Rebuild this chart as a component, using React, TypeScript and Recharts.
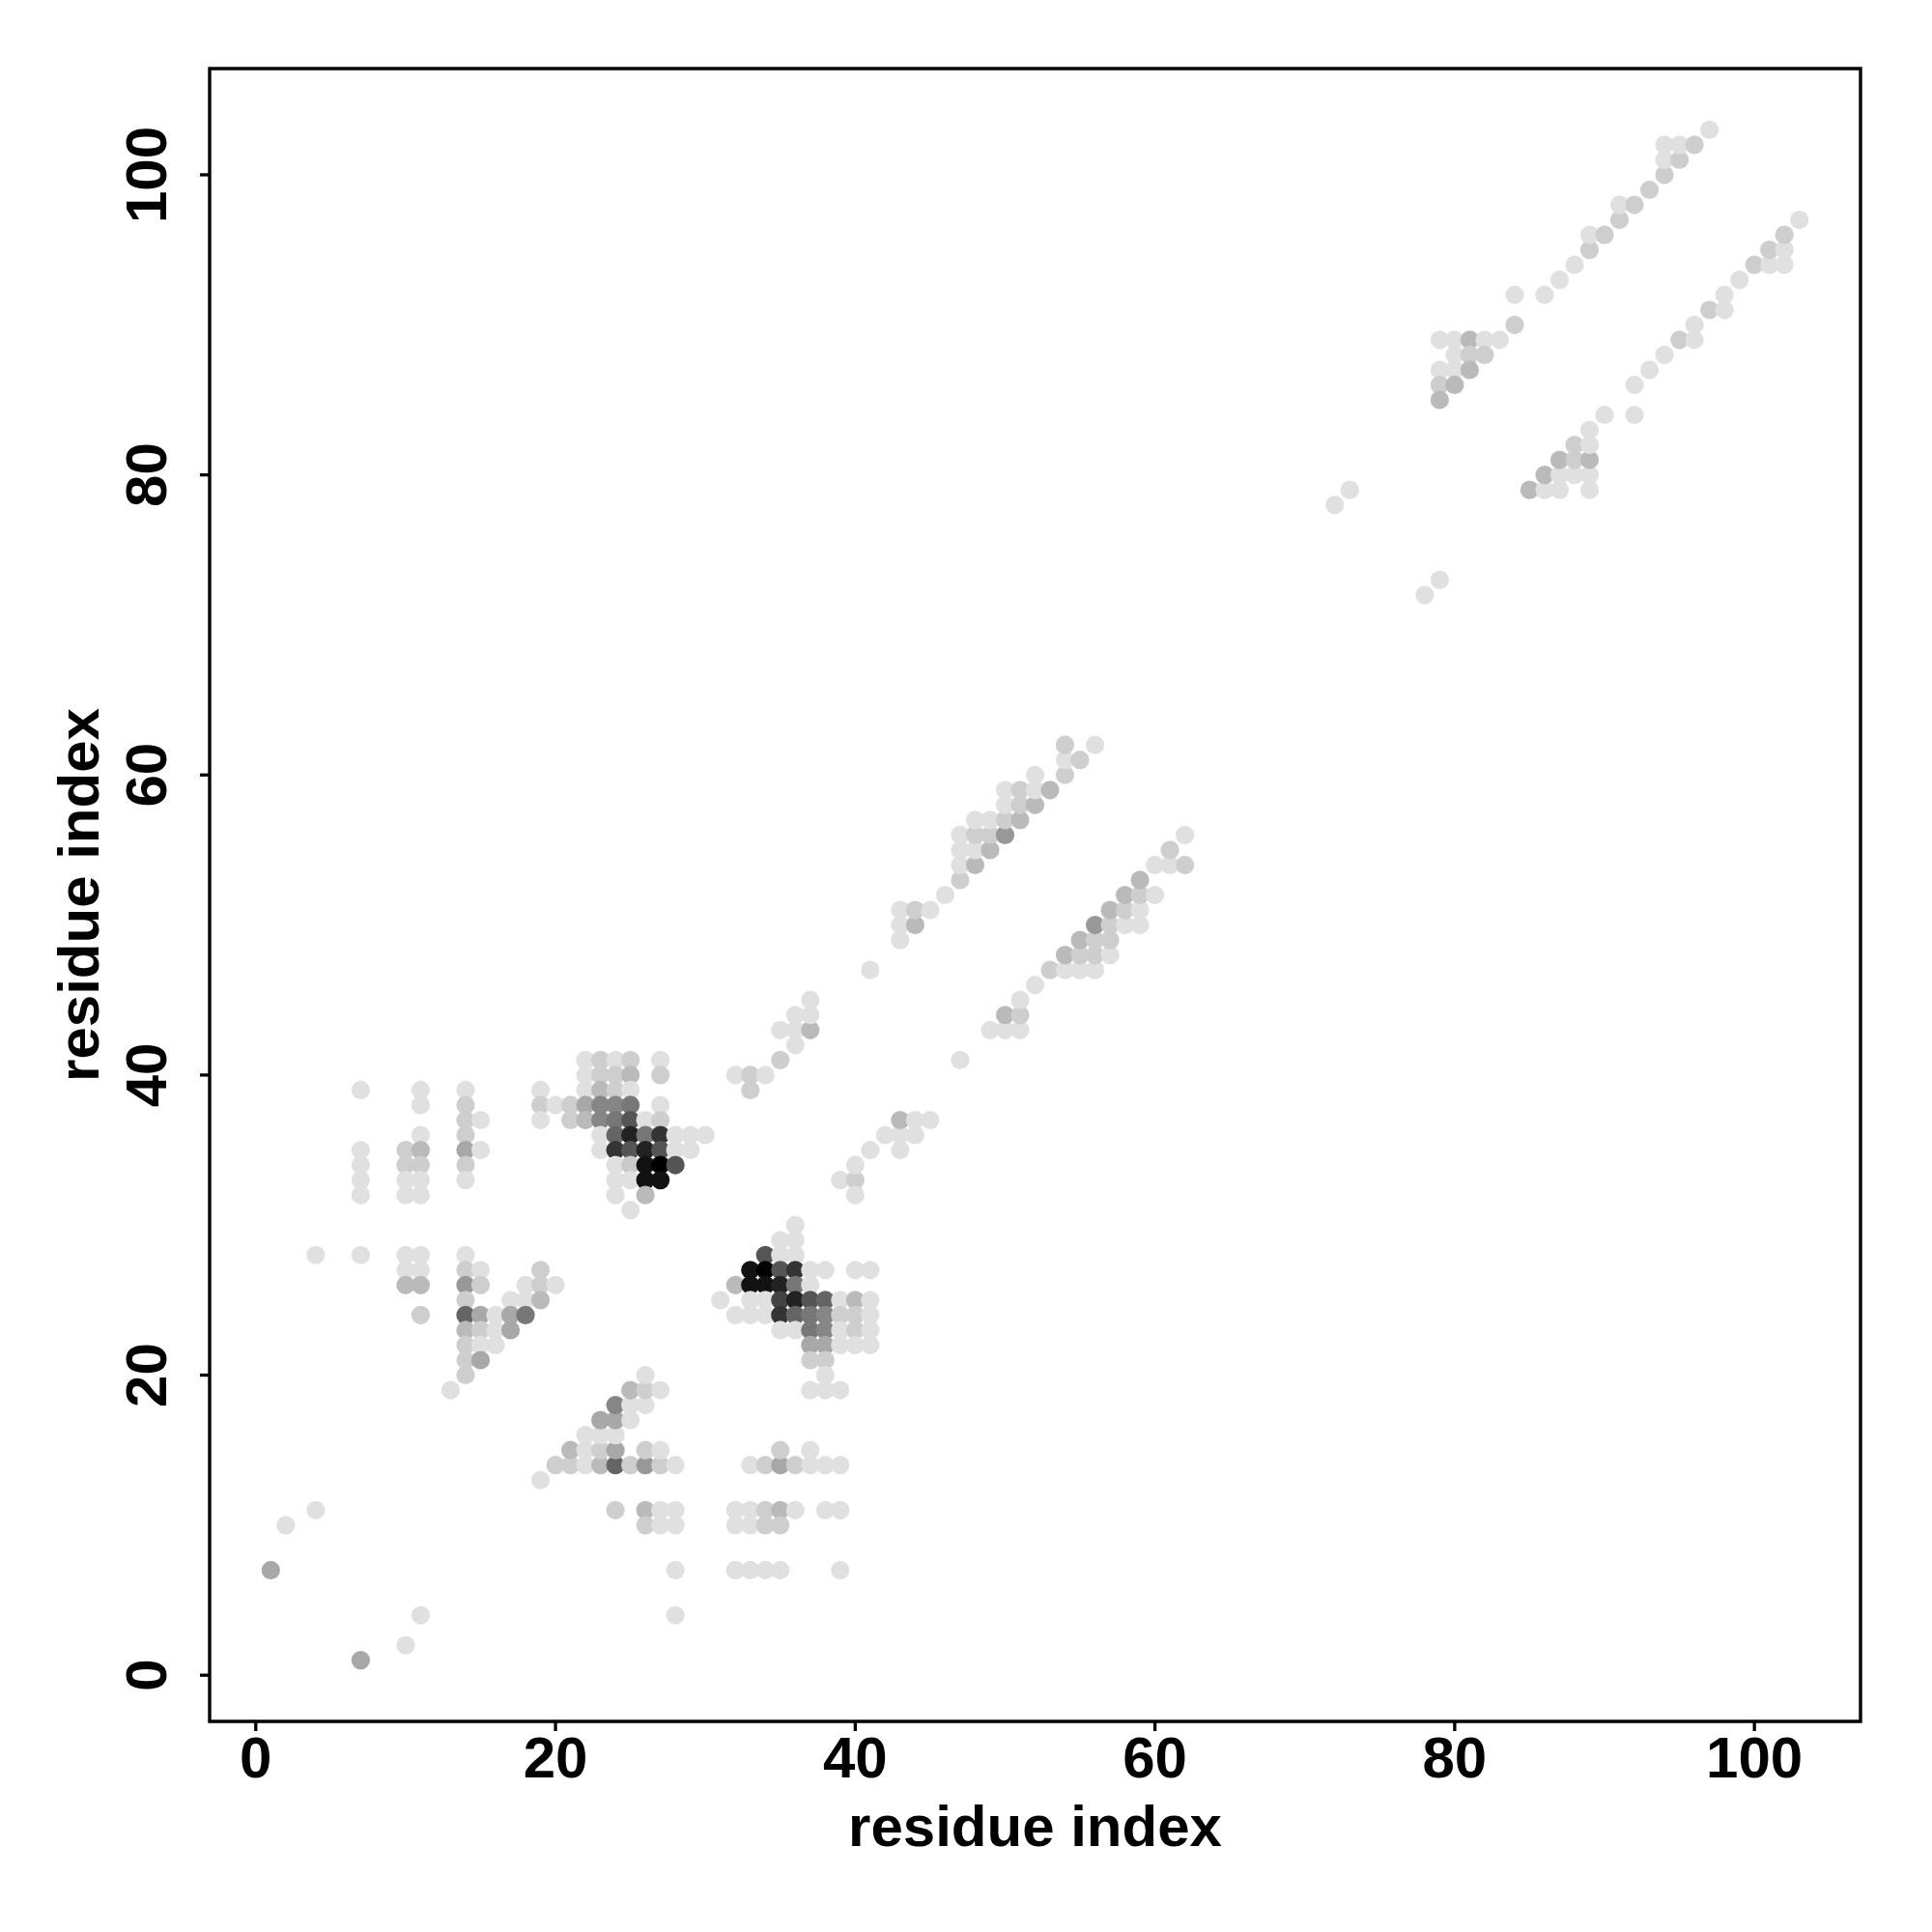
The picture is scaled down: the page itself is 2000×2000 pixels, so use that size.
import { ReferenceArea, Scatter, ScatterChart, XAxis, YAxis } from "recharts";

// each contact: [residue i, residue j, contact frequency 0..1]
type Contact = [number, number, number];

const scattered: Contact[] = [
  [1, 7, 0.25], [2, 10, 0], [4, 11, 0], [7, 1, 0.25], [10, 2, 0], [11, 4, 0],
  [13, 19, 0], [19, 13, 0], [4, 28, 0], [7, 28, 0],
];

const stripesUpperLeft: Contact[] = [
  [7, 39, 0], [7, 35, 0], [7, 34, 0], [7, 33, 0], [7, 32, 0],
  [10, 35, 0.08], [10, 34, 0.08], [10, 33, 0], [10, 32, 0],
  [11, 39, 0], [11, 38, 0], [11, 36, 0], [11, 35, 0.17], [11, 34, 0.08], [11, 33, 0], [11, 32, 0],
  [14, 39, 0], [14, 38, 0.08], [14, 37, 0.08], [14, 36, 0.08], [14, 35, 0.25], [14, 34, 0.08], [14, 33, 0],
  [15, 37, 0], [15, 35, 0],
  [19, 39, 0], [19, 38, 0.08], [19, 37, 0], [20, 38, 0], [21, 38, 0.08], [21, 37, 0.08],
];

const hairpinTop: Contact[] = [
  [22, 41, 0], [22, 40, 0], [22, 39, 0], [22, 38, 0.25], [22, 37, 0.17],
  [23, 41, 0.08], [23, 40, 0.08], [23, 39, 0.17], [23, 38, 0.4], [23, 37, 0.4], [23, 36, 0], [23, 35, 0],
  [24, 41, 0], [24, 40, 0.08], [24, 39, 0.08], [24, 38, 0.4], [24, 37, 0.47], [24, 36, 0.55], [24, 35, 0.77],
  [24, 34, 0], [24, 33, 0], [24, 32, 0],
  [25, 41, 0.08], [25, 40, 0.17], [25, 39, 0], [25, 38, 0.47], [25, 37, 0.62], [25, 36, 0.85], [25, 35, 0.62],
  [25, 34, 0.1], [25, 33, 0], [25, 31, 0],
  [26, 37, 0], [26, 36, 0.47], [26, 35, 0.85], [26, 34, 0.92], [26, 33, 0.92], [26, 32, 0.17],
  [27, 41, 0], [27, 40, 0.08], [27, 38, 0], [27, 37, 0.08], [27, 36, 0.77], [27, 35, 0.62], [27, 34, 1], [27, 33, 0.92],
  [28, 36, 0], [28, 35, 0], [28, 34, 0.62], [29, 36, 0], [29, 35, 0], [30, 36, 0],
];

const sheetLeft: Contact[] = [
  [10, 28, 0], [11, 28, 0], [10, 27, 0], [11, 27, 0], [10, 26, 0.17], [11, 26, 0.17], [11, 24, 0.08],
  [14, 28, 0], [14, 27, 0.08], [14, 26, 0.32], [14, 25, 0.08], [14, 24, 0.55], [14, 23, 0.17],
  [14, 22, 0.08], [14, 21, 0.08], [14, 20, 0.08],
  [15, 27, 0], [15, 26, 0.08], [15, 24, 0.25], [15, 23, 0.08], [15, 22, 0], [15, 21, 0.25],
  [16, 24, 0], [16, 23, 0], [16, 22, 0],
  [17, 25, 0], [17, 24, 0.25], [17, 23, 0.25],
  [18, 26, 0], [18, 25, 0], [18, 24, 0.47],
  [19, 27, 0.08], [19, 26, 0.08], [19, 25, 0.17], [20, 26, 0],
];

const sheetMiddle: Contact[] = [
  [20, 14, 0.08], [21, 14, 0.08], [22, 14, 0], [23, 14, 0.17], [24, 14, 0.55], [25, 14, 0.08],
  [26, 14, 0.32], [27, 14, 0.08], [28, 14, 0],
  [21, 15, 0.17], [22, 15, 0], [23, 15, 0.08], [24, 15, 0.25], [26, 15, 0.08], [27, 15, 0],
  [22, 16, 0], [23, 16, 0], [24, 16, 0],
  [23, 17, 0.25], [24, 17, 0.25], [25, 17, 0],
  [24, 18, 0.4], [25, 18, 0], [26, 18, 0],
  [25, 19, 0.17], [26, 19, 0.08], [27, 19, 0], [26, 20, 0],
  [33, 14, 0], [34, 14, 0.08], [35, 14, 0.25], [36, 14, 0.08], [37, 14, 0], [38, 14, 0], [39, 14, 0],
  [35, 15, 0.08], [37, 15, 0],
];

const sheetBottom: Contact[] = [
  [24, 11, 0.08], [26, 11, 0.17], [27, 11, 0], [28, 11, 0], [32, 11, 0], [33, 11, 0], [34, 11, 0.08],
  [35, 11, 0.17], [36, 11, 0], [38, 11, 0], [39, 11, 0],
  [26, 10, 0.08], [27, 10, 0], [28, 10, 0], [32, 10, 0], [33, 10, 0], [34, 10, 0.08], [35, 10, 0.08],
  [28, 7, 0], [32, 7, 0], [33, 7, 0], [34, 7, 0], [35, 7, 0], [39, 7, 0], [28, 4, 0],
];

const hairpinLow: Contact[] = [
  [36, 30, 0], [35, 29, 0], [36, 29, 0],
  [34, 28, 0.62], [35, 28, 0], [36, 28, 0],
  [33, 27, 0.92], [34, 27, 1], [35, 27, 0.62], [36, 27, 0.77], [37, 27, 0], [38, 27, 0], [40, 27, 0], [41, 27, 0],
  [32, 26, 0.17], [33, 26, 0.92], [34, 26, 0.92], [35, 26, 0.85], [36, 26, 0.47], [37, 26, 0],
  [31, 25, 0], [33, 25, 0], [34, 25, 0], [35, 25, 0.7], [36, 25, 0.85], [37, 25, 0.62], [38, 25, 0.55],
  [39, 25, 0], [40, 25, 0.17], [41, 25, 0],
  [32, 24, 0], [33, 24, 0], [34, 24, 0], [35, 24, 0.77], [36, 24, 0.55], [37, 24, 0.47], [38, 24, 0.4],
  [39, 24, 0.08], [40, 24, 0.08], [41, 24, 0],
  [35, 23, 0], [36, 23, 0], [37, 23, 0.47], [38, 23, 0.4], [39, 23, 0], [40, 23, 0.08], [41, 23, 0],
  [37, 22, 0.25], [38, 22, 0.25], [39, 22, 0], [40, 22, 0], [41, 22, 0],
  [37, 21, 0.08], [38, 21, 0.08], [38, 20, 0], [37, 19, 0], [38, 19, 0], [39, 19, 0],
];

const middleContacts: Contact[] = [
  [32, 40, 0], [33, 40, 0.08], [34, 40, 0], [33, 39, 0.08],
  [35, 41, 0.08], [36, 42, 0], [35, 43, 0], [36, 43, 0], [37, 43, 0.17], [36, 44, 0], [37, 44, 0], [37, 45, 0],
  [39, 33, 0], [40, 33, 0.08], [40, 32, 0], [40, 34, 0], [41, 35, 0], [42, 36, 0], [43, 36, 0], [44, 36, 0],
  [43, 35, 0], [43, 37, 0.17], [44, 37, 0], [45, 37, 0],
];

const helixUpper: Contact[] = [
  [41, 47, 0], [43, 49, 0], [43, 50, 0], [44, 50, 0.17], [43, 51, 0], [44, 51, 0.08], [45, 51, 0], [46, 52, 0],
  [47, 53, 0.08], [47, 54, 0], [48, 54, 0.17], [47, 55, 0], [48, 55, 0], [49, 55, 0.17],
  [47, 56, 0], [48, 56, 0.08], [49, 56, 0.08], [50, 56, 0.32], [48, 57, 0], [49, 57, 0], [50, 57, 0.08], [51, 57, 0.17],
  [50, 58, 0], [51, 58, 0.08], [52, 58, 0.17], [50, 59, 0], [51, 59, 0.08], [52, 59, 0], [53, 59, 0.17],
  [52, 60, 0], [54, 60, 0.08], [54, 61, 0], [55, 61, 0.08], [54, 62, 0.08], [56, 62, 0],
];

const helixLower: Contact[] = [
  [47, 41, 0], [49, 43, 0], [50, 43, 0], [51, 43, 0], [50, 44, 0.17], [51, 44, 0.08], [51, 45, 0], [52, 46, 0],
  [53, 47, 0.08], [54, 47, 0], [55, 47, 0], [56, 47, 0], [54, 48, 0.17], [55, 48, 0.08], [56, 48, 0.08], [57, 48, 0],
  [55, 49, 0.17], [56, 49, 0.08], [57, 49, 0.08], [56, 50, 0.32], [57, 50, 0.08], [58, 50, 0], [59, 50, 0],
  [57, 51, 0.17], [58, 51, 0.08], [59, 51, 0], [58, 52, 0.17], [59, 52, 0.08], [60, 52, 0], [59, 53, 0.17],
  [60, 54, 0], [61, 54, 0], [62, 54, 0.08], [61, 55, 0.08], [62, 56, 0],
];

const farContacts: Contact[] = [[72, 78, 0], [73, 79, 0], [78, 72, 0], [79, 73, 0]];

const ctermUpper: Contact[] = [
  [79, 89, 0], [80, 89, 0], [81, 89, 0.17], [82, 89, 0], [83, 89, 0], [80, 88, 0], [81, 88, 0.08], [82, 88, 0.08],
  [79, 87, 0], [80, 87, 0], [81, 87, 0.17], [79, 86, 0.08], [80, 86, 0.17], [79, 85, 0.17],
  [84, 90, 0.08], [84, 92, 0], [86, 92, 0], [87, 93, 0], [88, 94, 0], [89, 95, 0.08], [89, 96, 0], [90, 96, 0.08],
  [91, 97, 0.08], [91, 98, 0], [92, 98, 0.08], [93, 99, 0.08], [94, 100, 0.08], [94, 101, 0], [95, 101, 0.08],
  [94, 102, 0], [95, 102, 0], [96, 102, 0.08], [97, 103, 0],
];

const ctermLower: Contact[] = [
  [85, 79, 0.17], [86, 79, 0], [87, 79, 0], [89, 79, 0], [86, 80, 0.17], [87, 80, 0], [88, 80, 0], [89, 80, 0],
  [87, 81, 0.17], [88, 81, 0.08], [89, 81, 0.17], [88, 82, 0.08], [89, 82, 0], [89, 83, 0], [90, 84, 0], [92, 84, 0],
  [92, 86, 0], [93, 87, 0], [94, 88, 0], [95, 89, 0.08], [96, 89, 0], [96, 90, 0], [97, 91, 0.08], [98, 91, 0],
  [98, 92, 0], [99, 93, 0], [100, 94, 0.08], [101, 94, 0], [102, 94, 0], [101, 95, 0.08], [102, 95, 0],
  [102, 96, 0.08], [103, 97, 0],
];

const axisTicks = [0, 20, 40, 60, 80, 100];
const axisDomain: [number, number] = [-3.08, 107.08];

const FONT = '"Liberation Sans", Arial, Helvetica, sans-serif';

const data = [
  scattered, stripesUpperLeft, hairpinTop, sheetLeft, sheetMiddle, sheetBottom,
  hairpinLow, middleContacts, helixUpper, helixLower, farContacts, ctermUpper, ctermLower,
].flat().map(([x, y, p]) => ({ x, y, p }));

function grey(p: number) {
  const v = Math.round(224 * (1 - p));
  return `rgb(${v},${v},${v})`;
}

const Dot = (props: any) => (
  <circle cx={props.cx} cy={props.cy} r={9.6} fill={grey(props.payload.p)} />
);

const XTick = ({ x, y, payload }: any) => (
  <text x={x} y={y + 48} textAnchor="middle" fontSize={60} fontWeight="bold" fontFamily={FONT} fill="#000">
    {payload.value}
  </text>
);

const YTick = ({ x, y, payload }: any) => (
  <text
    x={x - 35}
    y={y}
    transform={`rotate(-90, ${x - 35}, ${y})`}
    textAnchor="middle"
    fontSize={60}
    fontWeight="bold"
    fontFamily={FONT}
    fill="#000"
  >
    {payload.value}
  </text>
);

const XTitle = ({ viewBox }: any) => (
  <text
    x={viewBox.x + viewBox.width / 2}
    y={viewBox.y + 129}
    textAnchor="middle"
    fontSize={60}
    fontWeight="bold"
    fontFamily={FONT}
    fill="#000"
  >
    residue index
  </text>
);

const YTitle = ({ viewBox }: any) => {
  const cx = viewBox.x + 102;
  const cy = viewBox.y + viewBox.height / 2;
  return (
    <text
      x={cx}
      y={cy}
      transform={`rotate(-90, ${cx}, ${cy})`}
      textAnchor="middle"
      fontSize={60}
      fontWeight="bold"
      fontFamily={FONT}
      fill="#000"
    >
      residue index
    </text>
  );
};

export default function App() {
  return (
    <div style={{ position: "absolute", left: 0, top: 0, background: "#fff" }}>
      <ScatterChart width={2000} height={2000} margin={{ top: 71, right: 74, bottom: 0, left: 0 }}>
        <XAxis
          type="number"
          dataKey="x"
          domain={axisDomain}
          ticks={axisTicks}
          allowDataOverflow
          height={218}
          axisLine={false}
          tickSize={10}
          tickMargin={0}
          tickLine={{ stroke: "#000", strokeWidth: 3.3 }}
          tick={<XTick />}
          label={<XTitle />}
        />
        <YAxis
          type="number"
          dataKey="y"
          domain={axisDomain}
          ticks={axisTicks}
          allowDataOverflow
          width={217}
          axisLine={false}
          tickSize={10}
          tickMargin={0}
          tickLine={{ stroke: "#000", strokeWidth: 3.3 }}
          tick={<YTick />}
          label={<YTitle />}
        />
        <ReferenceArea
          x1={axisDomain[0]}
          x2={axisDomain[1]}
          y1={axisDomain[0]}
          y2={axisDomain[1]}
          fill="none"
          fillOpacity={0}
          stroke="#000"
          strokeWidth={3.4}
        />
        <Scatter data={data} shape={<Dot />} isAnimationActive={false} />
      </ScatterChart>
    </div>
  );
}
